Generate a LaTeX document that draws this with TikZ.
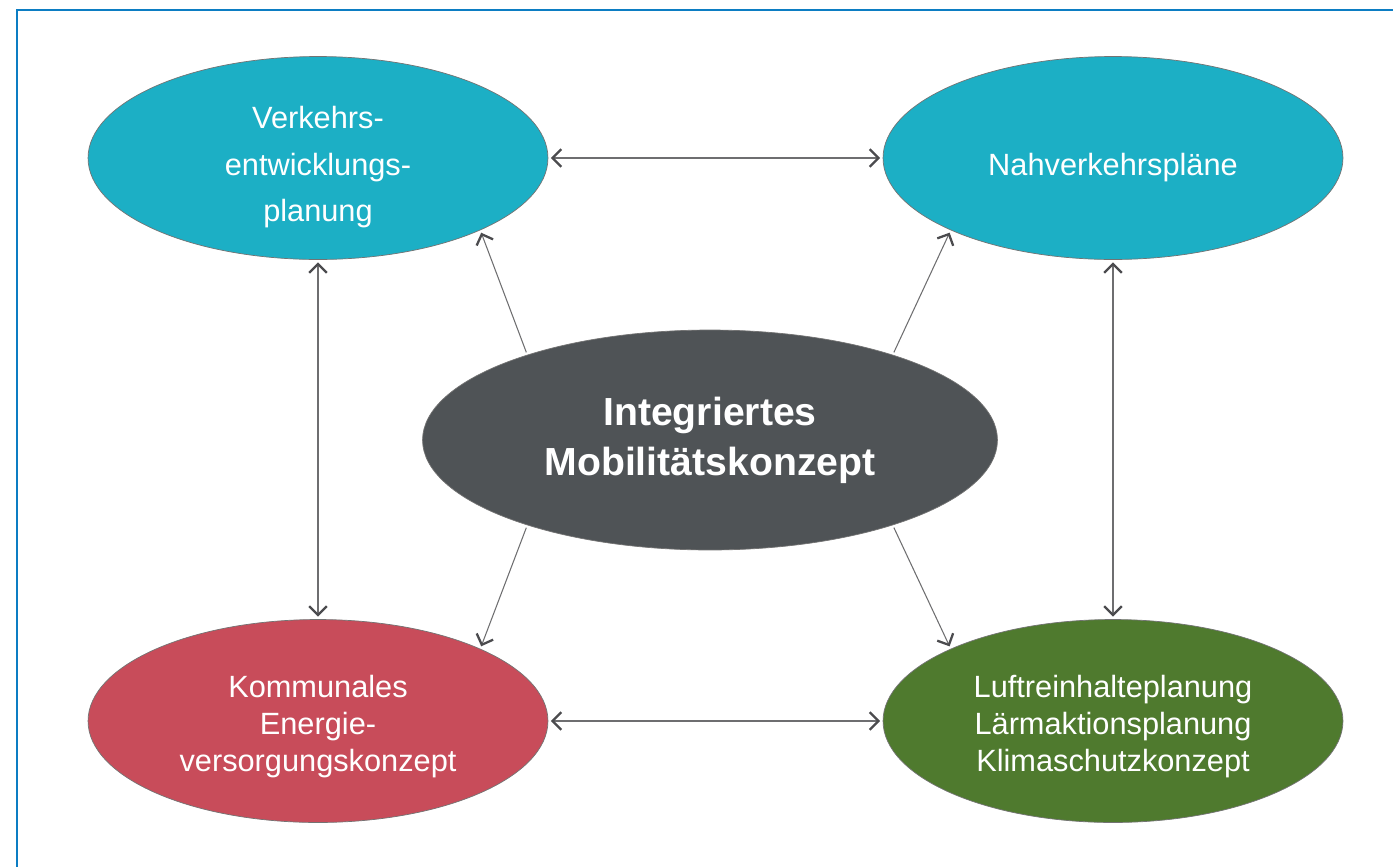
\documentclass[tikz,border=0pt]{standalone}
\usepackage{fontspec}
\setmainfont{Liberation Sans}
\usetikzlibrary{arrows.meta,shapes.geometric}
\definecolor{planblue}{RGB}{28,175,197}
\definecolor{planred}{RGB}{200,76,90}
\definecolor{plangreen}{RGB}{79,122,46}
\definecolor{plangray}{RGB}{79,83,86}
\definecolor{frameblue}{RGB}{12,125,195}
\definecolor{linkgray}{RGB}{110,110,112}
\definecolor{tipgray}{RGB}{75,75,78}

\begin{document}
\begin{tikzpicture}[x=0.02cm, y=-0.02cm]
\tikzset{plan/.style={ellipse,draw=black!55,thin,inner sep=0pt,minimum width=9.2cm,minimum height=4.06cm,align=center,text=white,font=\fontsize{17.5}{21}\selectfont}}
\tikzset{link/.style={semithick,draw=linkgray,>={Straight Barb[length=5pt,width=10pt,line width=1.3pt,color=tipgray]},shorten >=1.5pt,shorten <=1.5pt}}

\useasboundingbox (0,0) rectangle (1393,866);
\draw[line width=1.6pt,frameblue] (17,900) -- (17,10) -- (1430,10);

\node[plan,fill=planblue,text height=76pt,font=\fontsize{17.5}{26.5}\selectfont] (vep) at (318,158) {Verkehrs-\\entwicklungs-\\planung};
\node[plan,fill=planblue,text height=23pt] (nvp) at (1113,158) {Nahverkehrspläne};
\node[plan,fill=planred,text height=61pt] (kek) at (318,721) {Kommunales\\Energie-\\versorgungskonzept};
\node[plan,fill=plangreen,text height=61pt] (lrp) at (1113,721) {Luftreinhalteplanung\\Lärmaktionsplanung\\Klimaschutzkonzept};
\node[plan,fill=plangray,minimum width=11.5cm,minimum height=4.4cm,font=\bfseries\fontsize{22.3}{28.5}\selectfont] (imk) at (710,440) {Integriertes\\Mobilitätskonzept};

% frame of plans
\draw[link,<->] (vep) -- (nvp);
\draw[link,<->] (kek) -- (lrp);
\draw[link,<->] (vep) -- (kek);
\draw[link,<->] (nvp) -- (lrp);

% from the concept outwards
\draw[link,->] (imk.155) -- (vep.336);
\draw[link,->] (imk.25) -- (nvp.204);
\draw[link,->] (imk.205) -- (kek.24);
\draw[link,->] (imk.335) -- (lrp.156);

\end{tikzpicture}
\end{document}
